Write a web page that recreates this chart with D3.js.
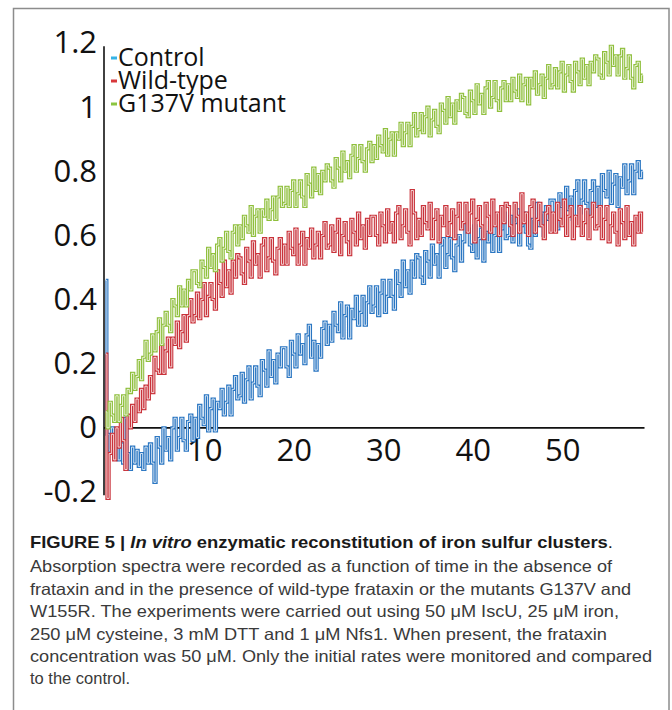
<!DOCTYPE html>
<html>
<head>
<meta charset="utf-8">
<script src="https://cdn.jsdelivr.net/npm/d3@7"></script>
<style>
  html, body { margin: 0; padding: 0; background: #fff; }
  svg { display: block; }
</style>
</head>
<body>
<svg id="chart" width="672" height="710"></svg>
<script>
// ---------- data ----------
const seriesNames = ["Control", "Wild-type", "G137V mutant"];
// time axis: one reading every 0.25 unit, from -1 to 59
const time = d3.range(241).map(i => -1 + 0.25 * i);

const control = [
  0.46, -0.02, -0.07, 0.00, -0.09, -0.03, -0.10, -0.05, -0.11, 0.03, -0.08, -0.13, -0.06, -0.11, -0.07, -0.12, -0.08, -0.13, -0.06, -0.11,
  -0.05, -0.11, -0.17, -0.03, -0.06, -0.11, 0.00, -0.07, -0.03, -0.10, 0.00, 0.03, -0.07, -0.03, 0.03, -0.04, -0.07, 0.02, 0.04, -0.04,
  0.03, -0.03, 0.07, 0.03, 0.01, 0.10, -0.01, 0.06, 0.09, -0.01, 0.08, 0.06, 0.12, 0.04, 0.08, 0.13, 0.04, 0.12, 0.16, 0.09,
  0.10, 0.17, 0.08, 0.15, 0.19, 0.09, 0.14, 0.19, 0.13, 0.10, 0.21, 0.18, 0.13, 0.24, 0.16, 0.21, 0.14, 0.23, 0.19, 0.25,
  0.25, 0.19, 0.16, 0.27, 0.23, 0.19, 0.29, 0.23, 0.26, 0.20, 0.29, 0.32, 0.22, 0.27, 0.18, 0.26, 0.22, 0.31, 0.33, 0.26,
  0.32, 0.27, 0.36, 0.32, 0.30, 0.39, 0.28, 0.35, 0.38, 0.28, 0.37, 0.34, 0.41, 0.32, 0.36, 0.41, 0.32, 0.39, 0.44, 0.36,
  0.38, 0.44, 0.35, 0.42, 0.46, 0.36, 0.41, 0.46, 0.41, 0.37, 0.49, 0.45, 0.41, 0.52, 0.44, 0.49, 0.42, 0.52, 0.47, 0.54,
  0.53, 0.47, 0.45, 0.55, 0.52, 0.47, 0.57, 0.51, 0.54, 0.47, 0.57, 0.59, 0.50, 0.54, 0.59, 0.53, 0.49, 0.57, 0.60, 0.52,
  0.58, 0.64, 0.62, 0.57, 0.55, 0.63, 0.53, 0.59, 0.62, 0.52, 0.61, 0.58, 0.64, 0.55, 0.60, 0.64, 0.55, 0.62, 0.67, 0.59,
  0.60, 0.66, 0.58, 0.64, 0.68, 0.57, 0.63, 0.67, 0.61, 0.57, 0.56, 0.65, 0.60, 0.70, 0.63, 0.67, 0.60, 0.69, 0.65, 0.71,
  0.71, 0.65, 0.62, 0.73, 0.69, 0.64, 0.75, 0.68, 0.72, 0.65, 0.74, 0.77, 0.67, 0.71, 0.77, 0.70, 0.66, 0.74, 0.77, 0.69,
  0.75, 0.69, 0.79, 0.74, 0.72, 0.80, 0.70, 0.76, 0.79, 0.69, 0.78, 0.75, 0.82, 0.73, 0.77, 0.82, 0.73, 0.80, 0.83, 0.78,
  0.80
];
const wildType = [
  0.23, -0.22, -0.08, -0.02, -0.10, 0.00, -0.06, 0.03, -0.04, -0.13, 0.04, 0.00, 0.07, 0.02, 0.09, 0.05, 0.12, 0.06, 0.13, 0.09,
  0.16, 0.11, 0.22, 0.18, 0.17, 0.26, 0.17, 0.24, 0.28, 0.19, 0.28, 0.26, 0.33, 0.25, 0.30, 0.35, 0.27, 0.35, 0.40, 0.33,
  0.35, 0.42, 0.34, 0.40, 0.45, 0.35, 0.41, 0.45, 0.40, 0.37, 0.49, 0.45, 0.41, 0.52, 0.44, 0.49, 0.42, 0.52, 0.47, 0.54,
  0.53, 0.48, 0.45, 0.56, 0.52, 0.47, 0.58, 0.51, 0.54, 0.47, 0.57, 0.59, 0.49, 0.53, 0.59, 0.52, 0.48, 0.56, 0.59, 0.51,
  0.57, 0.51, 0.61, 0.56, 0.54, 0.62, 0.51, 0.57, 0.61, 0.51, 0.59, 0.56, 0.62, 0.53, 0.57, 0.61, 0.53, 0.60, 0.64, 0.56,
  0.57, 0.63, 0.55, 0.61, 0.65, 0.54, 0.60, 0.64, 0.58, 0.54, 0.65, 0.61, 0.57, 0.67, 0.59, 0.63, 0.56, 0.65, 0.60, 0.66,
  0.66, 0.60, 0.57, 0.67, 0.63, 0.58, 0.68, 0.61, 0.64, 0.58, 0.67, 0.69, 0.59, 0.63, 0.68, 0.61, 0.57, 0.74, 0.67, 0.59,
  0.65, 0.60, 0.69, 0.64, 0.62, 0.70, 0.59, 0.65, 0.68, 0.58, 0.66, 0.63, 0.69, 0.60, 0.64, 0.68, 0.59, 0.66, 0.70, 0.62,
  0.64, 0.70, 0.61, 0.67, 0.71, 0.58, 0.65, 0.69, 0.63, 0.59, 0.70, 0.66, 0.61, 0.71, 0.63, 0.67, 0.60, 0.69, 0.64, 0.70,
  0.69, 0.63, 0.60, 0.70, 0.66, 0.61, 0.73, 0.64, 0.67, 0.60, 0.69, 0.71, 0.61, 0.65, 0.70, 0.63, 0.59, 0.67, 0.69, 0.61,
  0.67, 0.61, 0.70, 0.65, 0.63, 0.71, 0.60, 0.66, 0.69, 0.59, 0.66, 0.63, 0.69, 0.60, 0.64, 0.68, 0.59, 0.66, 0.70, 0.62,
  0.63, 0.69, 0.59, 0.65, 0.69, 0.58, 0.63, 0.67, 0.61, 0.57, 0.68, 0.64, 0.59, 0.69, 0.60, 0.64, 0.57, 0.66, 0.61, 0.67,
  0.61
];
const g137v = [
  0.05, 0.00, 0.08, 0.04, 0.02, 0.10, 0.02, 0.07, 0.10, 0.04, 0.12, 0.11, 0.17, 0.12, 0.16, 0.21, 0.15, 0.22, 0.27, 0.21,
  0.23, 0.29, 0.24, 0.30, 0.34, 0.26, 0.32, 0.36, 0.32, 0.30, 0.40, 0.38, 0.35, 0.44, 0.38, 0.43, 0.38, 0.46, 0.43, 0.49,
  0.49, 0.45, 0.44, 0.52, 0.50, 0.47, 0.56, 0.50, 0.54, 0.49, 0.57, 0.59, 0.52, 0.56, 0.61, 0.55, 0.53, 0.61, 0.63, 0.57,
  0.63, 0.59, 0.66, 0.63, 0.61, 0.69, 0.60, 0.66, 0.68, 0.61, 0.68, 0.66, 0.71, 0.65, 0.68, 0.72, 0.65, 0.72, 0.75, 0.69,
  0.70, 0.75, 0.69, 0.74, 0.77, 0.69, 0.73, 0.77, 0.72, 0.69, 0.79, 0.76, 0.72, 0.81, 0.74, 0.79, 0.73, 0.80, 0.77, 0.82,
  0.81, 0.77, 0.75, 0.84, 0.81, 0.77, 0.86, 0.80, 0.83, 0.78, 0.85, 0.88, 0.80, 0.84, 0.88, 0.83, 0.80, 0.87, 0.89, 0.83,
  0.88, 0.84, 0.91, 0.88, 0.86, 0.93, 0.85, 0.90, 0.92, 0.85, 0.92, 0.90, 0.95, 0.88, 0.92, 0.95, 0.88, 0.94, 0.98, 0.91,
  0.93, 0.98, 0.92, 0.97, 1.00, 0.91, 0.96, 0.99, 0.94, 0.92, 1.01, 0.99, 0.95, 1.03, 0.97, 1.01, 0.95, 1.02, 0.99, 1.04,
  1.03, 0.98, 0.97, 1.05, 1.02, 0.98, 1.07, 1.01, 1.04, 0.98, 1.06, 1.08, 1.00, 1.03, 1.08, 1.02, 0.99, 1.06, 1.08, 1.02,
  1.07, 1.02, 1.09, 1.05, 1.03, 1.10, 1.02, 1.07, 1.09, 1.01, 1.09, 1.06, 1.11, 1.04, 1.07, 1.10, 1.03, 1.09, 1.13, 1.06,
  1.07, 1.12, 1.06, 1.11, 1.14, 1.05, 1.10, 1.13, 1.08, 1.05, 1.14, 1.11, 1.07, 1.15, 1.09, 1.13, 1.07, 1.14, 1.11, 1.16,
  1.15, 1.10, 1.09, 1.17, 1.14, 1.10, 1.19, 1.13, 1.16, 1.10, 1.16, 1.18, 1.09, 1.12, 1.16, 1.09, 1.06, 1.13, 1.14, 1.08,
  1.10
];
const yTickValues = [-0.2, 0, 0.2, 0.4, 0.6, 0.8, 1, 1.2];
const yTickLabels = ["-0.2", "0", "0.2", "0.4", "0.6", "0.8", "1", "1.2"];
const xTickValues = [10, 20, 30, 40, 50];
const xTickLabels = ["10", "20", "30", "40", "50"];

const lineColors = ["#2a76c2", "#c9323a", "#8fbf3c"];
const legendColors = ["#35b3e6", "#d8383b", "#8cc540"];

const captionLines = [
  null, // first line built with mixed styles
  "Absorption spectra were recorded as a function of time in the absence of",
  "frataxin and in the presence of wild-type frataxin or the mutants G137V and",
  "W155R. The experiments were carried out using 50 \u03bcM IscU, 25 \u03bcM iron,",
  "250 \u03bcM cysteine, 3 mM DTT and 1 \u03bcM Nfs1. When present, the frataxin",
  "concentration was 50 \u03bcM. Only the initial rates were monitored and compared",
  "to the control."
];

// ---------- drawing ----------
const svg = d3.select("#chart");

// figure frame
svg.append("rect")
  .attr("x", 13.5).attr("y", 8.5)
  .attr("width", 655.5).attr("height", 760)
  .attr("fill", "none").attr("stroke", "#8c8c8c").attr("stroke-width", 1.5);

const x = d3.scaleLinear().domain([-1.2, 59.2]).range([104, 644.5]);
const y = d3.scaleLinear().domain([-0.2, 1.2]).range([492, 43]);

const tickFont = "'Open Sans', 'DejaVu Sans', sans-serif";

// y axis
const yAxis = svg.append("g")
  .attr("transform", `translate(${x(-1.2)},0)`)
  .call(d3.axisLeft(y).tickValues(yTickValues).tickSize(0).tickPadding(7)
    .tickFormat((d, i) => yTickLabels[i]));
yAxis.select(".domain").attr("stroke", "#111").attr("stroke-width", 1.6)
  .attr("d", `M0,${y(1.19)}V${y(-0.21)}`);
yAxis.selectAll("text").attr("font-family", tickFont).attr("font-size", 31)
  .attr("fill", "#111");

// x axis
const xAxis = svg.append("g")
  .attr("transform", `translate(0,${y(0)})`)
  .call(d3.axisBottom(x).tickValues(xTickValues).tickSize(0).tickPadding(11)
    .tickFormat((d, i) => xTickLabels[i]));
xAxis.select(".domain").attr("stroke", "#111").attr("stroke-width", 1.6)
  .attr("d", `M${x(-1.2)},0H${x(59.2)}`);
xAxis.selectAll("text").attr("font-family", tickFont).attr("font-size", 31)
  .attr("fill", "#111");

// series
const line = d3.line()
  .x((d, i) => x(time[i]))
  .y(d => y(d))
  .curve(d3.curveStep);

const allSeries = [control, wildType, g137v];
const gLines = svg.append("g");
allSeries.forEach((s, k) => {
  gLines.append("path").datum(s)
    .attr("d", line).attr("fill", "none")
    .attr("stroke", lineColors[k]).attr("stroke-width", 3.1)
    .attr("stroke-linejoin", "miter");
  gLines.append("path").datum(s)
    .attr("d", line).attr("fill", "none")
    .attr("stroke", "#fff").attr("stroke-width", 0.8)
    .attr("stroke-linejoin", "miter");
});

// legend
const legendBaselines = [66, 89, 112];
const legend = svg.append("g");
seriesNames.forEach((name, k) => {
  legend.append("rect")
    .attr("x", 111).attr("y", legendBaselines[k] - 9.5)
    .attr("width", 6).attr("height", 3)
    .attr("fill", legendColors[k]);
  legend.append("text")
    .attr("x", 118).attr("y", legendBaselines[k])
    .attr("font-family", tickFont).attr("font-size", 25)
    .attr("fill", "#111")
    .text(name);
});

// caption
const capFont = "'Liberation Sans', Arial, sans-serif";
const capX = 30;
const capBaselines = [548, 572, 595, 617, 640, 662, 684];
const capRight = [613, 612, 631, 619, 607, 652, null];
const cap = svg.append("g").attr("font-family", capFont).attr("font-size", 16.5);

const t1 = cap.append("text").attr("x", capX).attr("y", capBaselines[0])
  .attr("fill", "#1a1a1a")
  .attr("textLength", capRight[0] - capX).attr("lengthAdjust", "spacingAndGlyphs");
t1.append("tspan").attr("font-weight", "bold").text("FIGURE 5 | ");
t1.append("tspan").attr("font-weight", "bold").attr("font-style", "italic").text("In vitro");
t1.append("tspan").attr("font-weight", "bold").text(" enzymatic reconstitution of iron sulfur clusters");
t1.append("tspan").text(".");

captionLines.forEach((txt, i) => {
  if (i === 0) return;
  const t = cap.append("text").attr("x", capX).attr("y", capBaselines[i])
    .attr("fill", "#3a3a3a").text(txt);
  if (capRight[i]) {
    t.attr("textLength", capRight[i] - capX).attr("lengthAdjust", "spacingAndGlyphs");
  }
});
</script>
</body>
</html>
